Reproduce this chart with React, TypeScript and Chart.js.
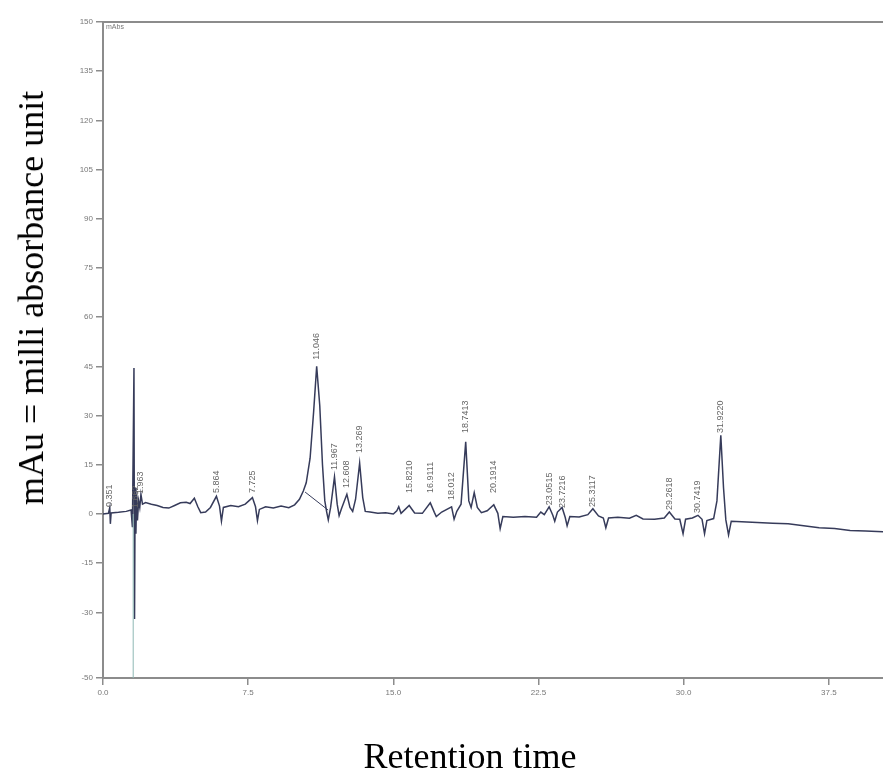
import React, { useEffect, useRef } from 'react';
import { Chart, registerables } from 'chart.js';

Chart.register(...registerables);

// chromatogram trace, minutes vs mAU
const retentionTimes = [
  0, 0.28, 0.35, 0.38, 0.42, 0.8, 1.2, 1.45, 1.52, 1.6,
  1.63, 1.66, 1.7, 1.74, 1.78, 1.84, 1.9, 1.96, 2.04, 2.2,
  2.5, 2.8, 3.1, 3.4, 3.7, 4.0, 4.3, 4.5, 4.72, 4.9,
  5.05, 5.3, 5.55, 5.86, 6.02, 6.12, 6.22, 6.6, 7.0, 7.35,
  7.72, 7.88, 7.98, 8.08, 8.4, 8.8, 9.2, 9.6, 9.9, 10.15,
  10.35, 10.5, 10.7, 10.88, 11.04, 11.2, 11.34, 11.46, 11.56, 11.64,
  11.76, 11.96, 12.1, 12.2, 12.32, 12.6, 12.76, 12.9, 13.05, 13.26,
  13.42, 13.55, 13.8, 14.2, 14.6, 15.0, 15.18, 15.28, 15.4, 15.82,
  16.1, 16.5, 16.91, 17.12, 17.22, 17.5, 18.01, 18.14, 18.28, 18.5,
  18.74, 18.9, 19.02, 19.18, 19.34, 19.55, 19.85, 20.19, 20.4, 20.52,
  20.66, 21.2, 21.8, 22.4, 22.62, 22.8, 23.05, 23.24, 23.34, 23.48,
  23.72, 23.88, 23.98, 24.12, 24.6, 25.05, 25.31, 25.6, 25.85, 25.98,
  26.12, 26.6, 27.2, 27.55, 27.9, 28.5, 29.0, 29.26, 29.55, 29.8,
  29.97, 30.1, 30.45, 30.74, 30.95, 31.08, 31.2, 31.55, 31.72, 31.92,
  32.06, 32.18, 32.32, 32.46, 33.0, 33.8, 34.6, 35.4, 36.2, 37.0,
  37.8, 38.6, 39.4, 40.3,
];
const absorbance = [
  0, 0.2, 2.0, -3.0, 0.3, 0.5, 0.8, 1.2, -4, 44.5,
  -32, 8, -6, 6, -2, 4, 2, 6, 3, 3.5,
  3.0, 2.6, 2.0, 1.8, 2.6, 3.4, 3.6, 3.2, 4.8, 2.2,
  0.4, 0.6, 2.0, 5.4, 2.4, -2.2, 2.0, 2.6, 2.2, 3.0,
  5.0, 2.2, -2.0, 1.4, 2.2, 1.8, 2.4, 1.9, 2.8, 4.5,
  7.0, 9.5, 17, 31, 45, 33, 15, 4, 0.5, -1.8,
  2.0, 11.3, 3.0, -0.5, 1.6, 6.0, 2.0, 0.8, 4.5, 15.5,
  5.0, 0.8, 0.6, 0.2, 0.4, 0.0, 1.0, 2.2, 0.2, 2.6,
  0.3, 0.2, 3.4, 0.5, -0.8, 0.6, 2.2, -1.6, 0.8, 3.0,
  22.0, 4.0, 2.0, 6.5, 2.0, 0.4, 1.0, 2.8, 0.2, -4.5,
  -0.8, -1.0, -0.8, -1.0, 0.6, -0.2, 2.2, -0.4, -2.2, 0.6,
  2.0, -1.0, -3.6, -0.8, -0.9, -0.2, 1.6, -0.6, -1.2, -4.2,
  -1.2, -1.0, -1.3, -0.4, -1.5, -1.6, -1.2, 0.6, -1.5, -1.6,
  -6.0, -1.6, -1.2, -0.4, -1.6, -6.0, -2.0, -1.4, 4.0, 24.0,
  8.0, -1.8, -6.4, -2.2, -2.4, -2.6, -2.8, -3.0, -3.6, -4.2,
  -4.4, -5.0, -5.2, -5.4,
];

// injection marker and integration baseline under the 11.04 peak
const markerTimes = [1.56, 1.56];
const markerValues = [-50, 0];
const baselineTimes = [10.44, 11.63];
const baselineValues = [6.7, 1.2];

// peak annotations: retention time + peak number
const peakTimes = [0.35, 1.66, 1.96, 5.86, 7.72, 11.04, 11.96, 12.6, 13.26, 15.82, 16.91, 18.01, 18.74, 20.19, 23.05, 23.72, 25.31, 29.26, 30.74, 31.92];
const peakLabels = ['0.351', '1.662', '1.963', '5.864', '7.725', '11.046', '11.967', '12.608', '13.269', '15.8210', '16.9111', '18.012', '18.7413', '20.1914', '23.0515', '23.7216', '25.3117', '29.2618', '30.7419', '31.9220'];
const labelBase = [2.1, 1.8, 6.1, 6.4, 6.4, 47, 13.4, 7.9, 18.6, 6.4, 6.4, 4.3, 24.7, 6.4, 2.7, 1.8, 2.1, 1.2, 0.3, 24.7];

const xTicks = [0, 7.5, 15, 22.5, 30, 37.5];
const yTicks = [-50, -30, -15, 0, 15, 30, 45, 60, 75, 90, 105, 120, 135, 150];

const AXIS_COLOR = '#8c8c8c';
const TICK_FONT = { family: '"Liberation Sans", Arial, sans-serif', size: 8 };

const zip = (xs: number[], ys: number[]) => xs.map((x, i) => ({ x, y: ys[i] }));

const peakLabelPlugin = {
  id: 'peakLabels',
  afterDatasetsDraw(chart: any) {
    const { ctx, chartArea, scales } = chart;
    const xs = scales.x;
    const ys = scales.y;
    ctx.save();
    // top frame line
    ctx.strokeStyle = AXIS_COLOR;
    ctx.lineWidth = 2;
    ctx.beginPath();
    ctx.moveTo(chartArea.left, chartArea.top);
    ctx.lineTo(chartArea.right, chartArea.top);
    ctx.stroke();

    ctx.fillStyle = '#777';
    ctx.font = '7px "Liberation Sans", Arial, sans-serif';
    ctx.textAlign = 'left';
    ctx.textBaseline = 'top';
    ctx.fillText('mAbs', chartArea.left + 3, chartArea.top + 2);

    ctx.font = '9px "Liberation Sans", Arial, sans-serif';
    ctx.fillStyle = '#666';
    ctx.textBaseline = 'middle';
    peakTimes.forEach((t, i) => {
      const px = xs.getPixelForValue(t);
      const py = ys.getPixelForValue(labelBase[i]);
      ctx.save();
      ctx.translate(px, py);
      ctx.rotate(-Math.PI / 2);
      ctx.fillText(peakLabels[i], 0, 0);
      ctx.restore();
    });
    ctx.restore();
  },
};

export default function App() {
  const canvasRef = useRef<HTMLCanvasElement>(null);

  useEffect(() => {
    if (!canvasRef.current) return;
    const chart = new Chart(canvasRef.current, {
      type: 'line',
      data: {
        datasets: [
          {
            data: zip(markerTimes, markerValues),
            borderColor: '#8fb8b4',
            borderWidth: 1,
            pointRadius: 0,
          },
          {
            data: zip(retentionTimes, absorbance),
            borderColor: '#363b5a',
            borderWidth: 1.5,
            pointRadius: 0,
            tension: 0,
          },
          {
            data: zip(baselineTimes, baselineValues),
            borderColor: '#363b5a',
            borderWidth: 1,
            pointRadius: 0,
          },
        ],
      },
      options: {
        animation: false,
        responsive: false,
        layout: { padding: { left: 63, top: 22, right: 0, bottom: 0 } },
        plugins: { legend: { display: false }, tooltip: { enabled: false } },
        scales: {
          x: {
            type: 'linear',
            min: 0,
            max: 40.3,
            afterBuildTicks: (scale: any) => {
              scale.ticks = xTicks.map((value) => ({ value }));
            },
            afterFit: (scale: any) => {
              scale.height = 97;
            },
            border: { color: AXIS_COLOR, width: 2 },
            grid: { drawOnChartArea: false, color: AXIS_COLOR, tickLength: 7, lineWidth: 1.5 },
            ticks: {
              color: '#777',
              font: TICK_FONT,
              padding: 3,
              maxRotation: 0,
              callback: (value: any) => Number(value).toFixed(1),
            },
          },
          y: {
            min: -50,
            max: 150,
            afterBuildTicks: (scale: any) => {
              scale.ticks = yTicks.map((value) => ({ value }));
            },
            afterFit: (scale: any) => {
              scale.width = 40;
            },
            border: { color: AXIS_COLOR, width: 2 },
            grid: { drawOnChartArea: false, color: AXIS_COLOR, tickLength: 7, lineWidth: 1.5 },
            ticks: {
              color: '#777',
              font: TICK_FONT,
              padding: 3,
              callback: (value: any) => String(value),
            },
          },
        },
      },
      plugins: [peakLabelPlugin],
    });
    return () => chart.destroy();
  }, []);

  const titleFont = '"Liberation Serif", "Times New Roman", serif';

  return (
    <div style={{ position: 'absolute', left: 0, top: 0, width: 883, height: 775, background: '#fff', overflow: 'hidden' }}>
      <canvas ref={canvasRef} width={883} height={775} style={{ display: 'block' }} />
      <div
        style={{
          position: 'absolute',
          left: 31,
          top: 298,
          transform: 'translate(-50%, -50%) rotate(-90deg)',
          whiteSpace: 'nowrap',
          fontFamily: titleFont,
          fontSize: 36,
          color: '#000',
        }}
      >
        mAu = milli absorbance unit
      </div>
      <div
        style={{
          position: 'absolute',
          left: 470,
          top: 756,
          transform: 'translate(-50%, -50%)',
          whiteSpace: 'nowrap',
          fontFamily: titleFont,
          fontSize: 36,
          color: '#000',
        }}
      >
        Retention time
      </div>
    </div>
  );
}
